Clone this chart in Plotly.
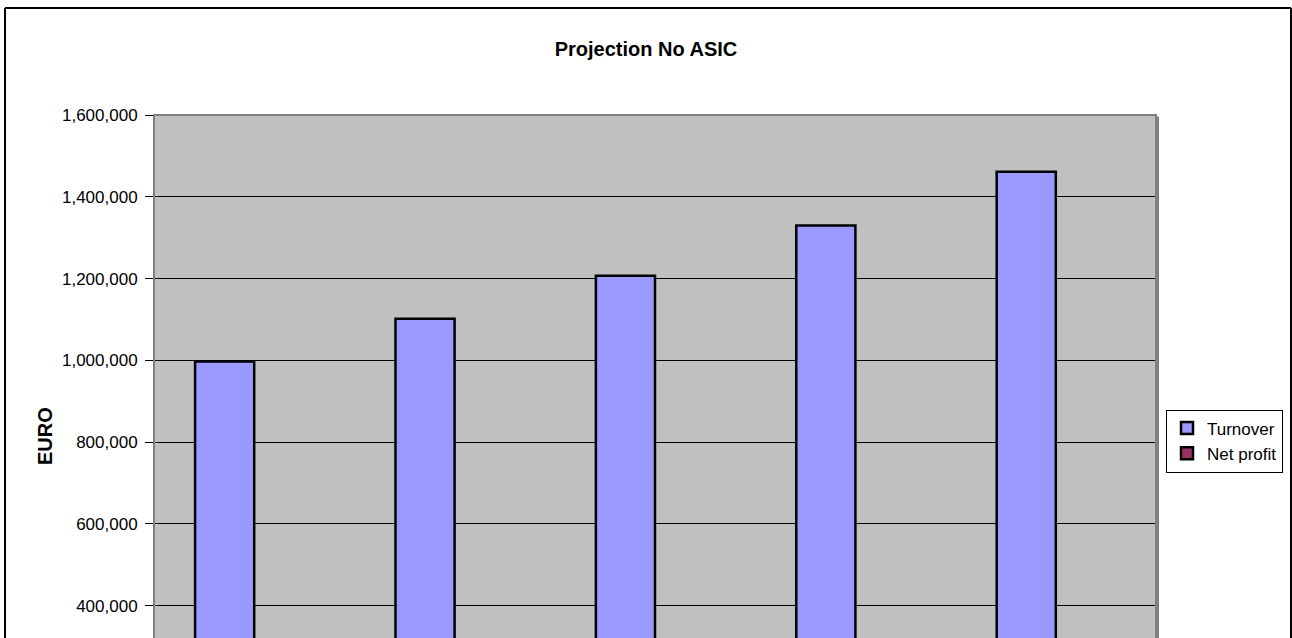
import plotly.graph_objects as go

categories = ["Year 1", "Year 2", "Year 3", "Year 4", "Year 5"]
turnover = [997000, 1102000, 1207000, 1330000, 1461000]
net_profit = [120000, 150000, 180000, 210000, 240000]
tick_vals = [400000, 600000, 800000, 1000000, 1200000, 1400000, 1600000]
tick_text = ["400,000", "600,000", "800,000", "1,000,000", "1,200,000", "1,400,000", "1,600,000"]

fig = go.Figure()
fig.add_trace(go.Bar(x=categories, y=turnover, name="Turnover",
                     marker=dict(color="#9999FF", line=dict(color="black", width=2.5))))
fig.add_trace(go.Bar(x=categories, y=net_profit, name="Net profit",
                     marker=dict(color="#993366", line=dict(color="black", width=2.5))))

fig.update_layout(
    width=1292, height=638,
    margin=dict(l=154, r=136, t=115, b=0, autoexpand=False),
    paper_bgcolor="white", plot_bgcolor="#C0C0C0",
    font=dict(family="Arial, Liberation Sans, sans-serif", size=17, color="black"),
    title=dict(text="<b>Projection No ASIC</b>", x=0.5, xanchor="center",
               xref="container", yref="container", y=1 - 49 / 638,
               yanchor="middle", font=dict(size=20)),
    barmode="group", bargap=0.41, bargroupgap=0,
    showlegend=True,
    legend=dict(x=1166 / 1292, xref="container", xanchor="left", yanchor="middle",
                y=(638 - 441) / 638, yref="container",
                bordercolor="black", borderwidth=1, bgcolor="white",
                font=dict(size=17), tracegroupgap=0, itemwidth=30),
)
fig.update_xaxes(showticklabels=False, showgrid=False, showline=False, zeroline=False)
fig.update_yaxes(range=[321000, 1600000], tickvals=tick_vals, ticktext=tick_text,
                 showgrid=True, gridcolor="black", gridwidth=1, zeroline=False,
                 ticks="outside", ticklen=8, tickcolor="black", showline=False,
                 ticklabelstandoff=4, tickfont=dict(size=17))

# plot area border (grey) and outer chart frame (black)
fig.add_shape(type="rect", xref="paper", yref="paper", x0=0, x1=1, y0=-0.01, y1=1,
              line=dict(color="#808080", width=2), layer="above")
fig.add_shape(type="line", xref="paper", yref="paper", x0=1.002, x1=1.002, y0=-0.01, y1=0.997,
              line=dict(color="#808080", width=2), layer="above")
for x0, y0, x1, y1 in [(5, 8, 1291, 8), (5, 8, 5, 640), (1291, 8, 1291, 640)]:
    fig.add_shape(type="line", xref="paper", yref="paper",
                  x0=(x0 - 154) / 1002, x1=(x1 - 154) / 1002,
                  y0=(638 - y0) / 523, y1=(638 - y1) / 523,
                  line=dict(color="black", width=2))

fig.add_annotation(text="<b>EURO</b>", textangle=-90, xref="paper", yref="paper",
                   x=(45 - 154) / 1002, y=(638 - 436) / 523, showarrow=False,
                   font=dict(size=20), xanchor="center", yanchor="middle")

fig.write_html("out.html")
